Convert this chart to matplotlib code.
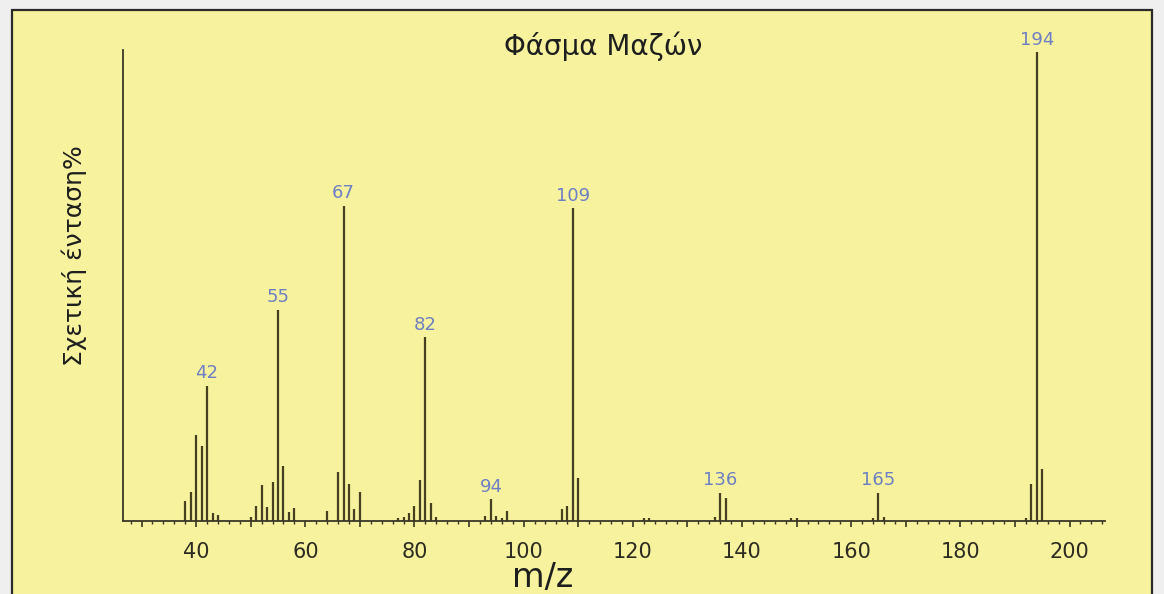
import matplotlib
matplotlib.use("Agg")
import matplotlib.pyplot as plt
from matplotlib.patches import Rectangle
from matplotlib.ticker import MultipleLocator, FuncFormatter

# ---- data (m/z, relative intensity %) ----
mz = [38, 39, 40, 41, 42, 43, 44,
      50, 51, 52, 53, 54, 55, 56, 57, 58,
      64, 66, 67, 68, 69, 70,
      77, 78, 79, 80, 81, 82, 83, 84,
      93, 94, 95, 96, 97,
      107, 108, 109, 110,
      122, 123, 135, 136, 137,
      149, 150, 164, 165, 166,
      192, 193, 194, 195]
intensity = [4.3, 6.1, 18.3, 15.9, 28.8, 1.7, 1.3,
             0.8, 3.3, 7.7, 2.9, 8.4, 45.0, 11.8, 2.0, 2.8,
             2.2, 10.4, 67.2, 7.9, 2.5, 6.1,
             0.7, 0.9, 1.6, 3.1, 8.8, 39.2, 3.8, 0.8,
             1.0, 4.6, 1.0, 0.7, 2.1,
             2.5, 3.2, 66.7, 9.2,
             0.6, 0.6, 0.8, 6.0, 4.9,
             0.7, 0.6, 0.7, 6.0, 0.8,
             0.7, 7.8, 100.0, 11.0]
labeled_peaks = [42, 55, 67, 82, 94, 109, 136, 165, 194]
xtick_labels = ["40", "60", "80", "100", "120", "140", "160", "180", "200"]

title = "Φάσμα Μαζών"
ylabel = "Σχετική ένταση%"
xlabel = "m/z"

W, H = 1164, 594
fig = plt.figure(figsize=(W / 100, H / 100), dpi=100)
fig.patch.set_facecolor("#efefef")

# yellow framed panel
panel = Rectangle((12 / W, -0.01), (1152 - 12) / W, 1 - 10 / H + 0.01,
                  transform=fig.transFigure, facecolor="#f6f29d",
                  edgecolor="#2a2a2a", linewidth=1.6, zorder=-5)
fig.patches.append(panel)

ax = fig.add_axes([123 / W, (H - 521) / H, (1105 - 123) / W, (521 - 50) / H])
ax.set_zorder(2)
ax.patch.set_visible(False)
ax.set_xlim(26.6, 206.5)
ax.set_ylim(0, 100.43)

line_color = "#463f20"
ax.vlines(mz, 0, intensity, colors=line_color, linewidth=1.6)

lookup = dict(zip(mz, intensity))
for m in labeled_peaks:
    ax.annotate(str(m), (m, lookup[m]), xytext=(0, 2.5), textcoords="offset points",
                ha="center", va="bottom", fontsize=13, color="#6f7fc4")

for s in ["top", "right"]:
    ax.spines[s].set_visible(False)
for s in ["left", "bottom"]:
    ax.spines[s].set_color("#3a3626")
    ax.spines[s].set_linewidth(1.3)

ax.set_yticks([])
tick_vals = [int(t) for t in xtick_labels]
ax.xaxis.set_major_locator(MultipleLocator(10))
ax.xaxis.set_minor_locator(MultipleLocator(2))
ax.xaxis.set_major_formatter(
    FuncFormatter(lambda v, p: str(int(round(v))) if int(round(v)) in tick_vals else ""))
ax.tick_params(axis="x", which="major", direction="out", length=4, width=1.2,
               color="#3a3626", labelsize=15, labelcolor="#2e2c22", pad=11)
ax.tick_params(axis="x", which="minor", direction="out", length=2.5, width=1,
               color="#3a3626")

fig.text(603 / W, 1 - 46 / H, title, ha="center", va="center",
         fontsize=20, color="#1e1e1e")
fig.text(74 / W, 1 - 256 / H, ylabel, ha="center", va="center",
         rotation=90, fontsize=18, color="#1e1e1e")
fig.text(543 / W, 1 - 577 / H, xlabel, ha="center", va="center",
         fontsize=24, color="#1e1e1e")

fig.savefig("out.png", dpi=100, facecolor=fig.get_facecolor())
